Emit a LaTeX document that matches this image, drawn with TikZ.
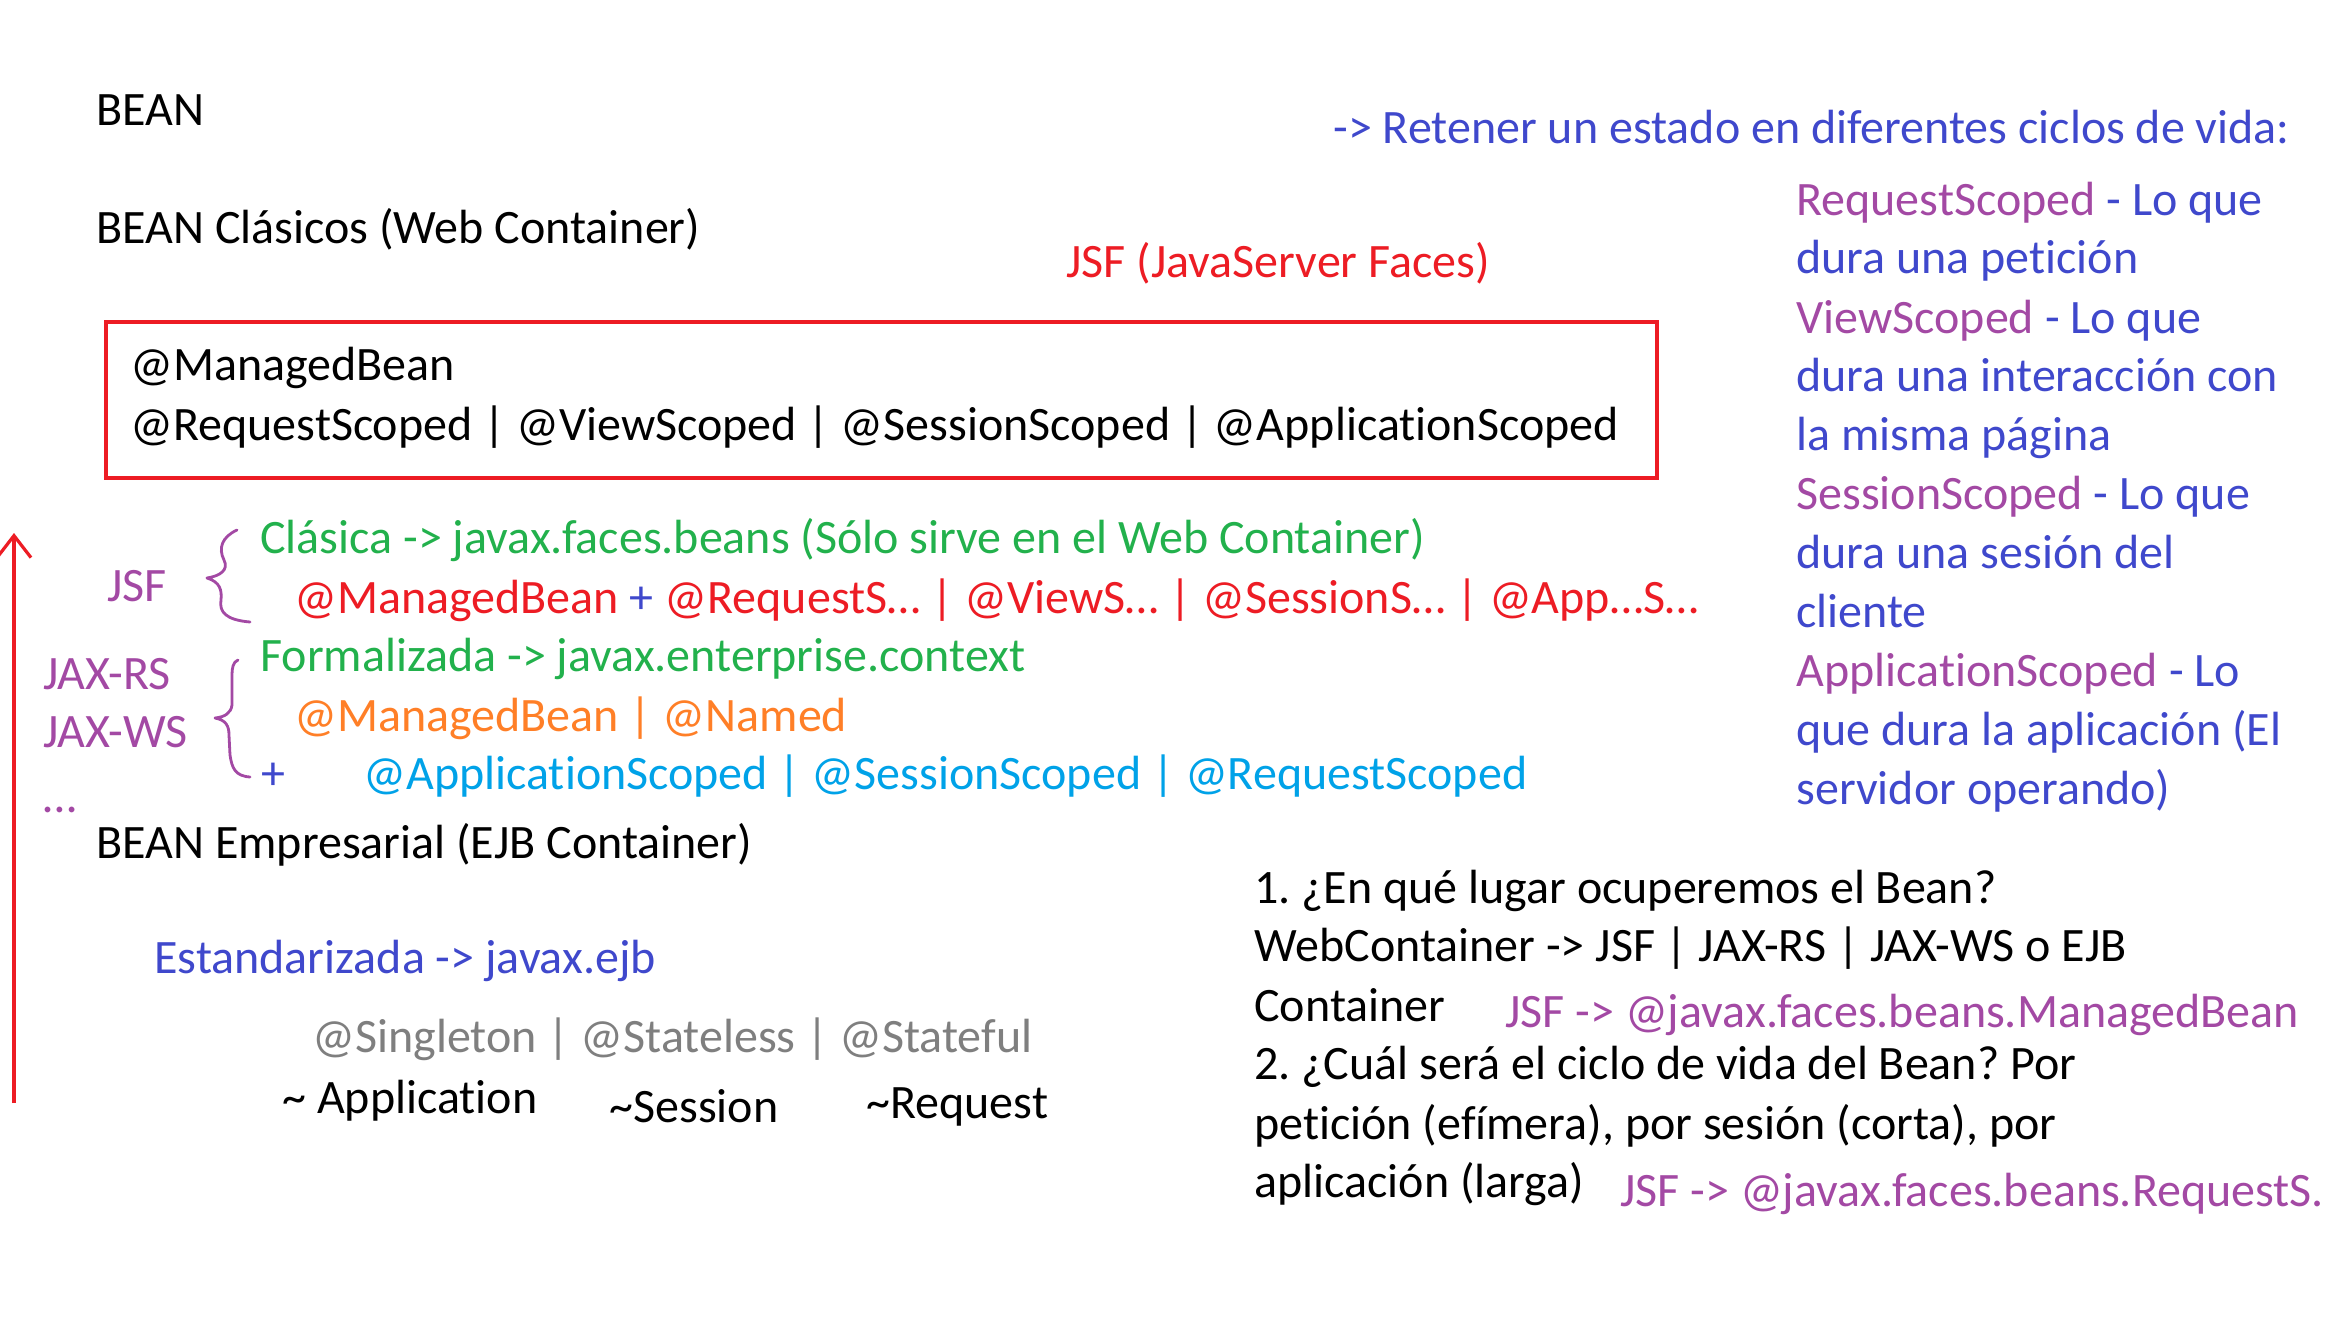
\documentclass[tikz,border=0pt]{standalone}
\usepackage{fontspec}
\setmainfont{Carlito}[Ligatures=NoCommon]
\usetikzlibrary{arrows.meta}
\definecolor{pgreen}{HTML}{22B14C}
\definecolor{pred}{HTML}{ED1C24}
\definecolor{porange}{HTML}{FF7F27}
\definecolor{pcyan}{HTML}{00A2E8}
\definecolor{pblue}{HTML}{3F48CC}
\definecolor{ppurple}{HTML}{A349A4}
\definecolor{pgray}{HTML}{7F7F7F}
\frenchspacing
\begin{document}
\begin{tikzpicture}[x=0.5pt,y=-0.5pt,
  t/.style={anchor=base west, inner sep=0pt, font=\fontsize{24}{29}\selectfont},
  bracestyle/.style={draw=ppurple, line width=1.4pt, line cap=round, line join=round}]
\useasboundingbox (0,0) rectangle (2341,1323);
\fill[white] (0,0) rectangle (2341,1323);

\node[t] (bean) at (96,125) {BEAN};
\node[t] (clasicos) at (96,243) {BEAN Clásicos (Web Container)};
\node[t, text=pred] (jsftitle) at (1066,277) {JSF (JavaServer Faces)};
\draw[pred, line width=2.3pt] (106,322) rectangle (1657,478);
\node[t] (mb) at (130,380) {@ManagedBean};
\node[t] (scopes) at (130,440) {@RequestScoped | @ViewScoped | @SessionScoped | @ApplicationScoped};

\node[t, text=pgreen] (clasica) at (260,553) {Clásica -> javax.faces.beans (Sólo sirve en el Web Container)};
\node[t, text=pred] (jsfline) at (294,613) {@ManagedBean \textcolor{pblue}{+} @RequestS… | @ViewS… | @SessionS… | @App…S…};
\node[t, text=pgreen] (formal) at (260,671) {Formalizada -> javax.enterprise.context};
\node[t, text=porange] (named) at (294,731) {@ManagedBean | @Named};
\node[t, text=pblue] (plus) at (261,789) {+};
\node[t, text=pcyan] (cdi) at (363,789) {@ApplicationScoped | @SessionScoped | @RequestScoped};

\node[t, text=ppurple] (jsf) at (107,601) {JSF};
\node[t, text=ppurple] (jaxrs) at (43,689) {JAX-RS};
\node[t, text=ppurple] (jaxws) at (43,747) {JAX-WS};
\node[t, text=ppurple] (dots) at (43,812) {…};

% hand-drawn braces
\draw[bracestyle] (237,530) .. controls (222,537) and (218,548) .. (224,560)
  .. controls (229,570) and (220,576) .. (207,578)
  .. controls (220,582) and (222,590) .. (221,600)
  .. controls (219,612) and (226,620) .. (250,622);
\draw[bracestyle] (238,660) .. controls (233,662) and (232,668) .. (232,675)
  -- (232,705) .. controls (231,713) and (225,717) .. (215,718)
  .. controls (226,720) and (229,726) .. (229,735)
  -- (230,755) .. controls (232,768) and (235,776) .. (250,777);

\node[t] (empresarial) at (96,858) {BEAN Empresarial (EJB Container)};
\node[t, text=pblue] (estand) at (154,973) {Estandarizada -> javax.ejb};
\node[t, text=pgray] (ejb) at (312,1052) {@Singleton | @Stateless | @Stateful};
\node[t] (app) at (282,1113) {\textasciitilde{} Application};
\node[t] (sess) at (609,1122) {\textasciitilde Session};
\node[t] (req) at (866,1118) {\textasciitilde Request};

% red arrow
\coordinate (arrowbottom) at (14,1103);
\coordinate (arrowtop) at (14,533);
\draw[pred, line width=2pt, -{Straight Barb[length=11pt, width=17pt, line width=1.6pt]}] (arrowbottom) -- (arrowtop);

% right column
\node[t, text=pblue] (retener) at (1333,143) {-> Retener un estado en diferentes ciclos de vida:};
\node[t, text=pblue] (r1) at (1796,215) {\textcolor{ppurple}{RequestScoped} - Lo que};
\node[t, text=pblue] (r2) at (1796,273) {dura una petición};
\node[t, text=pblue] (r3) at (1796,333) {\textcolor{ppurple}{ViewScoped} - Lo que};
\node[t, text=pblue] (r4) at (1796,391) {dura una interacción con};
\node[t, text=pblue] (r5) at (1796,450) {la misma página};
\node[t, text=pblue] (r6) at (1796,509) {\textcolor{ppurple}{SessionScoped} - Lo que};
\node[t, text=pblue] (r7) at (1796,568) {dura una sesión del};
\node[t, text=pblue] (r8) at (1796,627) {cliente};
\node[t, text=pblue] (r9) at (1796,686) {\textcolor{ppurple}{ApplicationScoped} - Lo};
\node[t, text=pblue] (r10) at (1796,745) {que dura la aplicación (El};
\node[t, text=pblue] (r11) at (1796,804) {servidor operando)};

% bottom right
\node[t] (q1) at (1254,903) {1. ¿En qué lugar ocuperemos el Bean?};
\node[t] (q1b) at (1254,961) {WebContainer -> JSF | JAX-RS | JAX-WS o EJB};
\node[t] (q1c) at (1254,1021) {Container};
\node[t, text=ppurple] (a1) at (1505,1027) {JSF -> @javax.faces.beans.ManagedBean};
\node[t] (q2) at (1254,1079) {2. ¿Cuál será el ciclo de vida del Bean? Por};
\node[t] (q2b) at (1254,1139) {petición (efímera), por sesión (corta), por};
\node[t] (q2c) at (1254,1197) {aplicación (larga)};
\node[t, text=ppurple] (a2) at (1620,1206) {JSF -> @javax.faces.beans.RequestS.};
\end{tikzpicture}
\end{document}
